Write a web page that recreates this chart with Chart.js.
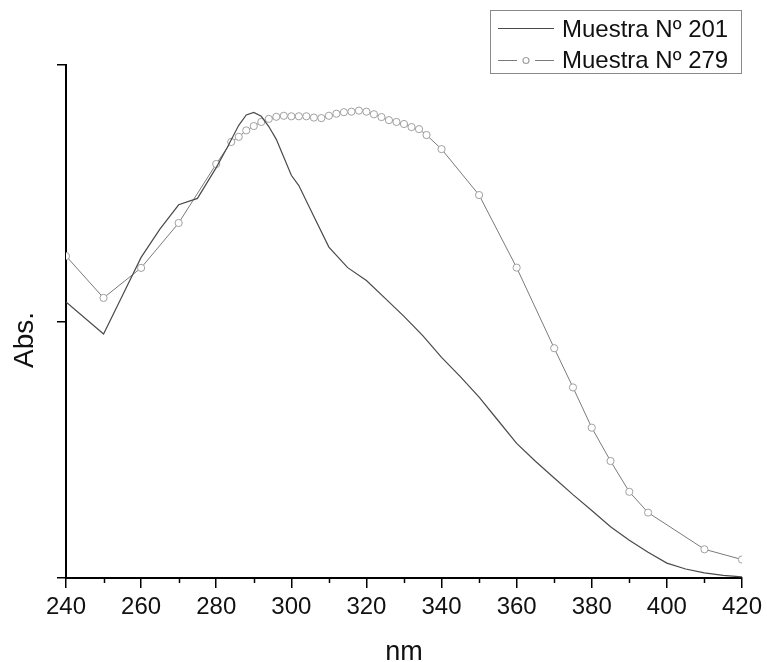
<!DOCTYPE html>
<html>
<head>
<meta charset="utf-8">
<script src="https://cdn.jsdelivr.net/npm/chart.js@4"></script>
<style>
  html, body { margin: 0; padding: 0; background: #fff; }
  canvas { display: block; }
</style>
</head>
<body>
<canvas id="absChart" width="767" height="662"></canvas>
<script>
// Muestra Nº 201 - continuous scan
const nm201 = [240, 250, 255, 260, 265, 270, 275, 280, 283, 286, 288, 290, 292, 294, 296, 298,
  300, 302, 305, 310, 315, 320, 325, 330, 335, 340, 345, 350, 355, 360, 365, 370, 375, 380,
  385, 390, 395, 400, 405, 410, 415, 420];
const abs201 = [1.076, 0.951, 1.10, 1.25, 1.36, 1.455, 1.48, 1.60, 1.68, 1.765, 1.805, 1.815, 1.80, 1.76, 1.71, 1.64,
  1.57, 1.53, 1.44, 1.29, 1.21, 1.16, 1.09, 1.02, 0.945, 0.86, 0.785, 0.705, 0.615, 0.525, 0.455, 0.39, 0.325, 0.263,
  0.20, 0.147, 0.10, 0.058, 0.035, 0.02, 0.01, 0.004];

// Muestra Nº 279 - measured points
const nm279 = [240, 250, 260, 270, 280, 284, 286, 288, 290, 292, 294, 296, 298, 300, 302, 304, 306, 308,
  310, 312, 314, 316, 318, 320, 322, 324, 326, 328, 330, 332, 334, 336, 340, 350, 360, 370, 375, 380,
  385, 390, 395, 410, 420];
const abs279 = [1.255, 1.092, 1.209, 1.384, 1.614, 1.70, 1.72, 1.745, 1.762, 1.778, 1.79, 1.798, 1.802, 1.80, 1.80, 1.80, 1.795, 1.793,
  1.802, 1.81, 1.816, 1.818, 1.822, 1.818, 1.808, 1.797, 1.785, 1.778, 1.77, 1.758, 1.75, 1.727, 1.672, 1.493, 1.21, 0.896, 0.743, 0.586,
  0.456, 0.336, 0.255, 0.112, 0.072];

const seriesNames = ['Muestra Nº 201', 'Muestra Nº 279'];
const xMajor = [240, 260, 280, 300, 320, 340, 360, 380, 400, 420];
const xMinor = [250, 270, 290, 310, 330, 350, 370, 390, 410];
const yTicks = [0, 1, 2];

const FONT = "'Liberation Sans', Arial, sans-serif";
const col201 = '#4a4a4a';
const col279 = '#7a7a7a';
const mark279 = '#a0a0a0';

const toXY = (xs, ys) => xs.map((x, i) => ({ x: x, y: ys[i] }));

// minor ticks, axis titles and the boxed legend
const extras = {
  id: 'extras',
  afterDraw(chart) {
    const ctx = chart.ctx;
    const xs = chart.scales.x;
    const area = chart.chartArea;
    ctx.save();

    ctx.strokeStyle = '#000';
    ctx.lineWidth = 1.5;
    xMinor.forEach(v => {
      const px = Math.round(xs.getPixelForValue(v)) + 0.5;
      ctx.beginPath();
      ctx.moveTo(px, area.bottom);
      ctx.lineTo(px, area.bottom + 5);
      ctx.stroke();
    });

    ctx.fillStyle = '#111';
    ctx.font = '27px ' + FONT;
    ctx.textAlign = 'center';
    ctx.textBaseline = 'alphabetic';
    ctx.fillText('nm', (area.left + area.right) / 2, 660);

    ctx.save();
    ctx.translate(33, 340);
    ctx.rotate(-Math.PI / 2);
    ctx.font = '28px ' + FONT;
    ctx.fillText('Abs.', 0, 0);
    ctx.restore();

    // legend
    ctx.strokeStyle = '#8a8a8a';
    ctx.lineWidth = 1;
    ctx.strokeRect(490.5, 10.5, 251, 63);

    ctx.font = '24px ' + FONT;
    ctx.textAlign = 'left';
    ctx.fillStyle = '#111';
    ctx.fillText(seriesNames[0], 562, 37);
    ctx.fillText(seriesNames[1], 562, 68);

    ctx.strokeStyle = col201;
    ctx.lineWidth = 1.2;
    ctx.beginPath();
    ctx.moveTo(498, 28.5);
    ctx.lineTo(554, 28.5);
    ctx.stroke();

    ctx.strokeStyle = col279;
    ctx.beginPath();
    ctx.moveTo(498, 60.5);
    ctx.lineTo(517, 60.5);
    ctx.moveTo(535, 60.5);
    ctx.lineTo(554, 60.5);
    ctx.stroke();
    ctx.strokeStyle = mark279;
    ctx.fillStyle = '#fff';
    ctx.beginPath();
    ctx.arc(526, 60.5, 3, 0, Math.PI * 2);
    ctx.fill();
    ctx.stroke();

    ctx.restore();
  }
};

new Chart(document.getElementById('absChart'), {
  type: 'line',
  data: {
    datasets: [
      {
        label: seriesNames[0],
        data: toXY(nm201, abs201),
        borderColor: col201,
        borderWidth: 1.2,
        pointRadius: 0,
        tension: 0,
        fill: false
      },
      {
        label: seriesNames[1],
        data: toXY(nm279, abs279),
        borderColor: col279,
        borderWidth: 1,
        pointRadius: 3.6,
        pointBorderColor: mark279,
        pointBackgroundColor: '#fff',
        pointBorderWidth: 1,
        tension: 0,
        fill: false
      }
    ]
  },
  options: {
    responsive: false,
    animation: false,
    events: [],
    layout: { padding: { top: 65, right: 23, left: 0, bottom: 0 } },
    plugins: {
      legend: { display: false },
      tooltip: { enabled: false }
    },
    scales: {
      x: {
        type: 'linear',
        min: 240,
        max: 420,
        afterBuildTicks: s => { s.ticks = xMajor.map(v => ({ value: v })); },
        afterFit: s => { s.height = 84; },
        border: { display: true, color: '#000', width: 2 },
        grid: { drawOnChartArea: false, drawTicks: true, tickLength: 10, color: '#000', lineWidth: 1.5 },
        ticks: { color: '#111', padding: 5, font: { family: FONT, size: 24 }, maxRotation: 0 }
      },
      y: {
        type: 'linear',
        min: 0,
        max: 2,
        afterBuildTicks: s => { s.ticks = yTicks.map(v => ({ value: v })); },
        afterFit: s => { s.width = 66; },
        border: { display: true, color: '#000', width: 2 },
        grid: { drawOnChartArea: false, drawTicks: true, tickLength: 9, color: '#000', lineWidth: 1.5 },
        ticks: { display: false }
      }
    }
  },
  plugins: [extras]
});
</script>
</body>
</html>
